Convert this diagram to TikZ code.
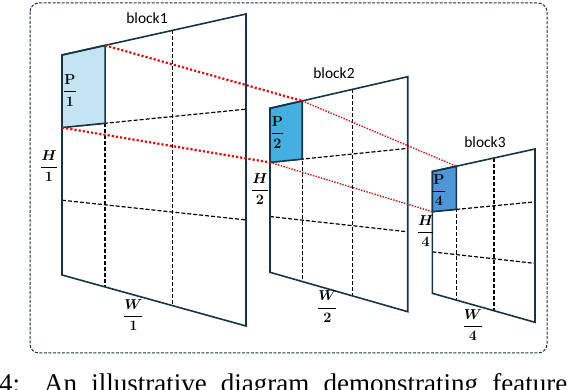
\documentclass[tikz,border=0pt]{standalone}
\usepackage{amsmath}
\usepackage{fontspec}
\usetikzlibrary{calc}
\newfontfamily\blockfont{Carlito}
\newfontfamily\capfont{Liberation Serif}
\definecolor{edge}{RGB}{23,52,70}
\definecolor{patchA}{RGB}{197,228,243}
\definecolor{patchB}{RGB}{69,176,224}
\definecolor{patchC}{RGB}{79,150,216}
\definecolor{linkred}{RGB}{225,10,10}

\begin{document}
\begin{tikzpicture}[x=1pt, y=-1pt,
    plane/.style={draw=edge, line width=1.6pt},
    grid/.style={black, line width=1.2pt, dash pattern=on 4pt off 2pt},
    linkA/.style={linkred, line width=2.2pt, dash pattern=on 2.2pt off 2pt},
    linkB/.style={linkred, line width=1.4pt, dash pattern=on 1.4pt off 1.4pt},
    title/.style={font=\blockfont\fontsize{15.5}{17}\selectfont, inner sep=0pt},
    frac/.style={font=\boldmath\fontsize{14.5}{16}\selectfont, inner sep=0pt}]
    \clip (0,0) rectangle (574,390);

    % Outer frame
    \draw[edge, line width=1pt, dash pattern=on 3pt off 1.5pt, rounded corners=9pt] (30,3) rectangle (547,353);

    % Blocks: grid, patch, outline
    \foreach \n/\xl/\xr/\ytl/\ytr/\ybr/\ybl/\c in {b1/62/246/55/14/326/275/patchA,
        b2/270/407.7/108.3/76.7/311.7/272.3/patchB, b3/432.3/535/171.5/149/322.3/293.3/patchC} {
        \coordinate (\n-tl) at (\xl,\ytl);
        \coordinate (\n-tr) at (\xr,\ytr);
        \coordinate (\n-br) at (\xr,\ybr);
        \coordinate (\n-bl) at (\xl,\ybl);
        \draw[grid] ($(\n-tl)!0.234!(\n-tr)$) -- ($(\n-bl)!0.234!(\n-br)$);
        \draw[grid] ($(\n-tl)!0.6!(\n-tr)$) -- ($(\n-bl)!0.6!(\n-br)$);
        \coordinate (\n-pb) at ($(\n-tl)!0.33!(\n-bl)$);
        \draw[grid] (\n-pb) -- coordinate[pos=0.234] (\n-pc) ($(\n-tr)!0.305!(\n-br)$);
        \draw[grid] ($(\n-tl)!0.66!(\n-bl)$) -- ($(\n-tr)!0.66!(\n-br)$);
        \coordinate (\n-pt) at ($(\n-tl)!0.234!(\n-tr)$);
        \filldraw[plane, fill=\c] (\n-tl) -- (\n-pt) -- (\n-pc) -- (\n-pb) -- cycle;
        \draw[plane] (\n-tl) -- (\n-tr) -- (\n-br) -- (\n-bl) -- cycle;
    }

    % Patch links
    \draw[linkA] (b1-pt) -- (b2-pt);
    \draw[linkA] (b1-pb) -- (b2-pb);
    \draw[linkB] (b2-pt) -- (b3-pt);
    \draw[linkB] (b2-pb) -- (b3-pb);

    % Titles
    \node[title] (t1) at (147,18) {block1};
    \node[title] (t2) at (334,73) {block2};
    \node[title] (t3) at (485,141.7) {block3};

    % Sizes
    \node[frac] (p1) at (70,90.5) {$\dfrac{\mathbf{P}}{\mathbf{1}}$};
    \node[frac] (h1) at (49,166) {$\dfrac{\boldsymbol{H}}{\mathbf{1}}$};
    \node[frac] (w1) at (133.3,315) {$\dfrac{\boldsymbol{W}}{\mathbf{1}}$};
    \node[frac] (p2) at (277.3,132.5) {$\dfrac{\mathbf{P}}{\mathbf{2}}$};
    \node[frac] (h2) at (260,189) {$\dfrac{\boldsymbol{H}}{\mathbf{2}}$};
    \node[frac] (w2) at (327.3,306.7) {$\dfrac{\boldsymbol{W}}{\mathbf{2}}$};
    \node[frac] (p4) at (439,190) {$\dfrac{\mathbf{P}}{\mathbf{4}}$};
    \node[frac] (h4) at (425.7,231) {$\dfrac{\boldsymbol{H}}{\mathbf{4}}$};
    \node[frac] (w4) at (473,325) {$\dfrac{\boldsymbol{W}}{\mathbf{4}}$};

    % Caption
    \node[anchor=base west, inner sep=0pt, font=\capfont\fontsize{27}{30}\selectfont] (cap) at (-1,393)
        {\makebox[568pt][s]{4: An illustrative diagram demonstrating feature}};
\end{tikzpicture}
\end{document}
